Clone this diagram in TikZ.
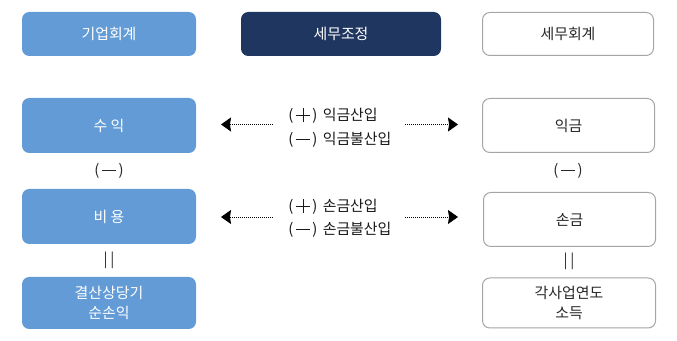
\documentclass[tikz,border=0pt]{standalone}
\usepackage{fontspec}
\setmainfont{Noto Sans CJK KR}
\usetikzlibrary{arrows.meta}
\definecolor{lblue}{RGB}{98,155,214}
\definecolor{navy}{RGB}{31,54,96}
\definecolor{bgray}{RGB}{165,165,165}
\definecolor{txt}{RGB}{40,40,40}
\newcommand\mydash{\rule[0.33em]{0.92em}{0.5pt}}
\newcommand\myplus{\makebox[0.92em][l]{\rule[0.33em]{0.92em}{0.5pt}\kern-0.46em\kern-0.25pt\rule[-0.1em]{0.5pt}{0.92em}}}
\newcommand\parsym[1]{(\kern2pt#1\kern2pt)}
\begin{document}
\begin{tikzpicture}[x=0.75pt,y=-0.75pt,
  box/.style={rounded corners=5.5pt,inner sep=0pt,align=center,font=\fontsize{11.2}{14.5}\selectfont},
  bluebox/.style={box,fill=lblue,text=white},
  navybox/.style={box,fill=navy,text=white},
  whitebox/.style={box,draw=bgray,line width=0.75pt,fill=white,text=txt},
  sym/.style={inner sep=0pt,font=\fontsize{11.2}{13}\selectfont,text=txt},
  lab/.style={inner sep=0pt,anchor=west,font=\fontsize{11.2}{13}\selectfont,text=black!90},
  dotarr/.style={line width=0.6pt,dash pattern=on 0.75pt off 0.75pt,-{Stealth[length=7.5pt,width=10.5pt,inset=0.8pt]}}]
\useasboundingbox (0,0) rectangle (677,341);
% top row
\node[bluebox,minimum width=130.5pt,minimum height=33pt] (kiup) at (109,34) {기업회계};
\node[navybox,minimum width=150pt,minimum height=33pt] (semu) at (341,34) {세무조정};
\node[whitebox,minimum width=128.25pt,minimum height=32.25pt] (semuh) at (568,34) {세무회계};
% left column
\node[bluebox,minimum width=130.5pt,minimum height=41.25pt] (suik) at (109,125.5) {수 익};
\node[sym] (m1) at (109,171) {\parsym{\mydash}};
\node[bluebox,minimum width=130.5pt,minimum height=41.25pt] (biyong) at (109,216.5) {비 용};
\node[sym] (eq1) at (109,260) {|\kern2pt|};
\node[bluebox,minimum width=130.5pt,minimum height=39pt] (gyeol) at (109,303) {결산상당기\\순손익};
% right column
\node[whitebox,minimum width=129pt,minimum height=40.5pt] (ikgeum) at (568.5,125.5) {익금};
\node[sym] (m2) at (568,171) {\parsym{\mydash}};
\node[whitebox,minimum width=129pt,minimum height=40.5pt] (songeum) at (569.5,219.5) {손금};
\node[sym] (eq2) at (569,261) {|\kern2pt|};
\node[whitebox,minimum width=129.75pt,minimum height=37.5pt] (gak) at (569,303) {각사업연도\\소득};
% middle labels
\node[lab] (l1) at (288,116) {\parsym{\myplus}\hspace{4pt}익금산입};
\node[lab] (l2) at (288,140) {\parsym{\mydash}\hspace{4pt}익금불산입};
\node[lab] (l3) at (288,207) {\parsym{\myplus}\hspace{4pt}손금산입};
\node[lab] (l4) at (288,230) {\parsym{\mydash}\hspace{4pt}손금불산입};
% arrows
\coordinate (a1s) at (273,124.5);
\coordinate (a1e) at (221,124.5);
\coordinate (a2s) at (405,124.5);
\coordinate (a2e) at (458,124.5);
\coordinate (a3s) at (273,217);
\coordinate (a3e) at (221,217);
\coordinate (a4s) at (405,217);
\coordinate (a4e) at (458,217);
\draw[dotarr] (a1s) -- (a1e);
\draw[dotarr] (a2s) -- (a2e);
\draw[dotarr] (a3s) -- (a3e);
\draw[dotarr] (a4s) -- (a4e);
\end{tikzpicture}
\end{document}
